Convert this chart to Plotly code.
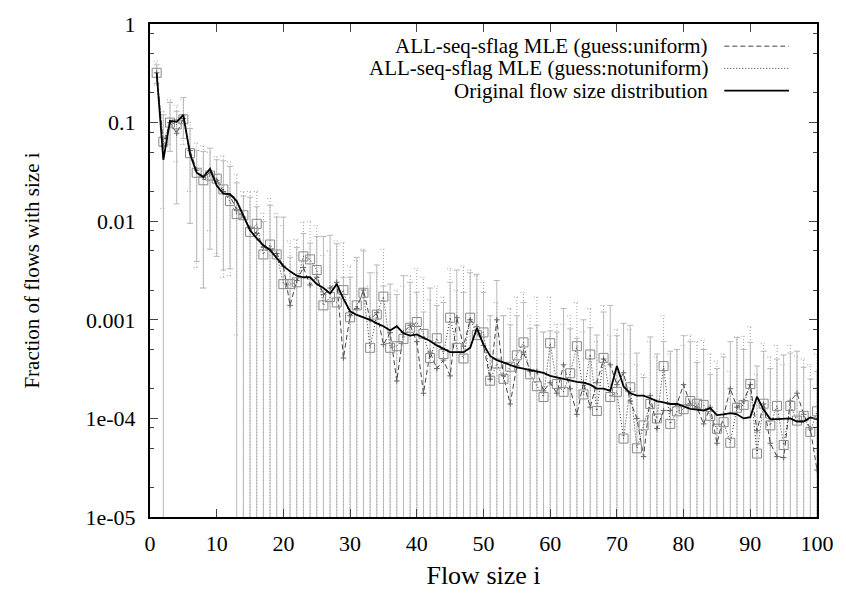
import plotly.graph_objects as go

# ---------------- data ----------------
sizes = list(range(1, 101))

original = [
    0.32, 0.042, 0.104, 0.102, 0.12, 0.048, 0.031, 0.028, 0.034, 0.023,
    0.019, 0.0188, 0.016, 0.0114, 0.0081, 0.0067, 0.0057, 0.0051, 0.0042, 0.0035,
    0.0031, 0.0028, 0.0027, 0.0027, 0.0023, 0.0021, 0.00185, 0.0023, 0.00163, 0.00122,
    0.00112, 0.00106, 0.001, 0.00092, 0.00086, 0.00078, 0.00086, 0.00073, 0.00069, 0.00071,
    0.00066, 0.00061, 0.00055, 0.00051, 0.00047, 0.00047, 0.00047, 0.00052, 0.00082, 0.00056,
    0.00043, 0.00039, 0.00037, 0.00035, 0.00033, 0.00032, 0.00031, 0.0003, 0.00029, 0.00027,
    0.00026, 0.00025, 0.00024, 0.000235, 0.00023, 0.00022, 0.0002, 0.0002, 0.00019, 0.00034,
    0.00021, 0.00018, 0.00017, 0.00017, 0.00016, 0.00015, 0.000145, 0.00014, 0.00014, 0.000133,
    0.000125, 0.000123, 0.00012, 0.000127, 0.000108, 0.00011, 0.000113, 0.00011, 0.0001, 0.000103,
    0.000166, 0.000122, 0.0000985, 0.0000985, 0.0000985, 0.0001, 0.000093, 0.000093, 0.000102, 0.0000985,
]

mle_uniform = [
    0.32, 0.058, 0.10, 0.078, 0.11, 0.052, 0.033, 0.028, 0.031, 0.026,
    0.02, 0.018, 0.013, 0.011, 0.0085, 0.0075, 0.0055, 0.0052, 0.0047, 0.0035,
    0.0014, 0.0025, 0.0034, 0.00225, 0.0027, 0.0018, 0.0021, 0.0024, 0.00041, 0.0011,
    0.0013, 0.002, 0.001, 0.00118, 0.00056, 0.00074, 0.00024, 0.00074, 0.00088, 0.0006,
    0.00018, 0.00047, 0.00032, 0.00039, 0.00027, 0.00105, 0.00054, 0.001, 0.00085, 0.00055,
    0.00025, 0.001, 0.00027, 0.00014, 0.00034, 0.00047, 0.0003, 0.0003, 0.00019, 0.00023,
    0.00018, 0.00035, 0.0002, 0.00011, 0.00023, 0.00013, 0.00023, 0.0004, 0.00035, 0.00022,
    0.00029, 0.00015, 0.0001, 0.000041, 0.00017, 0.000079, 0.00012, 0.00012, 0.00014, 0.00022,
    0.00014, 0.00013, 0.000088, 0.00013, 0.000056, 0.00011, 0.0002, 0.00013, 0.00015, 0.00022,
    0.000075, 0.00014, 0.000056, 0.000041, 0.00004, 0.00015, 0.00018, 0.00011, 0.000078, 0.00003,
]

mle_notuniform = [
    0.32, 0.064, 0.10, 0.096, 0.108, 0.049, 0.031, 0.026, 0.029, 0.027,
    0.021, 0.016, 0.0118, 0.0115, 0.0078, 0.0094, 0.0046, 0.0058, 0.0046, 0.0023,
    0.0023, 0.0024, 0.0044, 0.0041, 0.0032, 0.0014, 0.0017, 0.0015, 0.002, 0.00106,
    0.0014, 0.00188, 0.00052, 0.00113, 0.00172, 0.00052, 0.00054, 0.00064, 0.00083, 0.00095,
    0.00072, 0.00041, 0.00065, 0.00045, 0.00105, 0.00052, 0.000405, 0.00105, 0.0007, 0.000745,
    0.000241, 0.00036, 0.000252, 0.000334, 0.000436, 0.00059, 0.00028, 0.000212, 0.000165, 0.000579,
    0.000223, 0.000186, 0.000287, 0.00054, 0.000175, 0.000445, 0.000119, 0.000411, 0.000165, 0.000186,
    0.0000624, 0.000207, 0.0000497, 0.000085, 0.00014, 0.0001, 0.000339, 0.000088, 0.000118, 0.000124,
    0.00015, 0.000141, 0.000137, 0.000106, 0.0000785, 0.0000915, 0.0000566, 0.000128, 0.000137, 0.000223,
    0.000044, 0.000141, 0.000085, 0.000134, 0.0000537, 0.000134, 0.000095, 0.000106, 0.000073, 0.000118,
]

# error-bar bounds; 0 means the lower bound is not positive (runs off the log axis)
uniform_hi = [
    0.385, 0.12, 0.16, 0.13, 0.18, 0.087, 0.052, 0.051, 0.055, 0.042,
    0.041, 0.036, 0.0245, 0.018, 0.0175, 0.014, 0.0099, 0.0145, 0.011, 0.011,
    0.0043, 0.0054, 0.0075, 0.006, 0.007, 0.007, 0.0072, 0.0059, 0.0027, 0.0027,
    0.0043, 0.005, 0.003, 0.0036, 0.0022, 0.0023, 0.0018, 0.0028, 0.0024, 0.0019,
    0.0012, 0.0021, 0.0014, 0.0015, 0.0024, 0.0032, 0.0019, 0.003, 0.0029, 0.0019,
    0.0011, 0.0025, 0.0011, 0.00089, 0.0011, 0.0015, 0.00082, 0.00088, 0.00075, 0.00077,
    0.00075, 0.0013, 0.00081, 0.00065, 0.001, 0.00083, 0.0007, 0.0012, 0.0014, 0.00069,
    0.00092, 0.00088, 0.00046, 0.00026, 0.00067, 0.00045, 0.0006, 0.00048, 0.0005, 0.00069,
    0.0006, 0.00037, 0.0005, 0.00028, 0.00032, 0.00042, 0.0006, 0.00066, 0.0005, 0.00059,
    0.00034, 0.00048, 0.00032, 0.0004, 0.00044, 0.00046, 0.00048, 0.00033, 0.00025, 0.0003,
]
uniform_lo = [
    0.25, 0, 0.051, 0.015, 0.069, 0.0095, 0.0039, 0.0021, 0.0052, 0.0044,
    0.0032, 0.0033, 0, 0, 0, 0, 0, 0, 0, 0,
    0, 0, 0, 0, 0, 0, 0, 0, 0, 0,
    0, 0, 0, 0, 0, 0, 0, 0, 0, 0,
    0, 0, 0, 0, 0, 0, 0, 0, 0, 0,
    0, 0, 0, 0, 0, 0, 0, 0, 0, 0,
    0, 0, 0, 0, 0, 0, 0, 0, 0, 0,
    0, 0, 0, 0, 0, 0, 0, 0, 0, 0,
    0, 0, 0, 0, 0, 0, 0, 0, 0, 0,
    0, 0, 0, 0, 0, 0, 0, 0, 0, 0,
]
notuniform_hi = [
    0.42, 0.13, 0.17, 0.15, 0.17, 0.1, 0.062, 0.058, 0.05, 0.045,
    0.046, 0.04, 0.03, 0.02, 0.02, 0.02, 0.012, 0.017, 0.012, 0.009,
    0.0063, 0.0065, 0.0098, 0.01, 0.009, 0.0045, 0.005, 0.0063, 0.0061, 0.0035,
    0.004, 0.0052, 0.0022, 0.003, 0.0052, 0.0018, 0.002, 0.0022, 0.0028, 0.0033,
    0.0027, 0.0016, 0.0022, 0.0017, 0.0033, 0.002, 0.0035, 0.0032, 0.0028, 0.0024,
    0.001, 0.0015, 0.0011, 0.0013, 0.0017, 0.0019, 0.0011, 0.0017, 0.00075, 0.0017,
    0.0009, 0.0009, 0.0011, 0.0015, 0.00075, 0.0013, 0.0006, 0.0014, 0.0007, 0.0008,
    0.00045, 0.0008, 0.00035, 0.00028, 0.0006, 0.00042, 0.0011, 0.00045, 0.0005, 0.00055,
    0.0007, 0.0006, 0.00062, 0.00045, 0.00038, 0.00045, 0.0003, 0.00067, 0.00068, 0.00085,
    0.00028, 0.00058, 0.00042, 0.00055, 0.00035, 0.00055, 0.00043, 0.0004, 0.00035, 0.00045,
]
notuniform_lo = [
    0.24, 0.0135, 0.06, 0.04, 0.06, 0.02, 0.0034, 0.0021, 0.008, 0.0047,
    0.0027, 0.0028, 0.0007, 0, 0, 0, 0, 0, 0, 0,
    0, 0, 0, 0, 0, 0, 0, 0, 0, 0,
    0, 0, 0, 0, 0, 0, 0, 0, 0, 0,
    0, 0, 0, 0, 0, 0, 0, 0, 0, 0,
    0, 0, 0, 0, 0, 0, 0, 0, 0, 0,
    0, 0, 0, 0, 0, 0, 0, 0, 0, 0,
    0, 0, 0, 0, 0, 0, 0, 0, 0, 0,
    0, 0, 0, 0, 0, 0, 0, 0, 0, 0,
    0, 0, 0, 0, 0, 0, 0, 0, 0, 0,
]

series_names = [
    "ALL-seq-sflag MLE (guess:uniform)",
    "ALL-seq-sflag MLE (guess:notuniform)",
    "Original flow size distribution",
]
x_ticks = [0, 10, 20, 30, 40, 50, 60, 70, 80, 90, 100]
y_ticks = [1e-5, 1e-4, 1e-3, 1e-2, 1e-1, 1]
y_ticktext = ["1e-05", "1e-04", "0.001", "0.01", "0.1", "1"]
y_minor = [m * 10.0 ** e for e in range(-5, 0) for m in (2, 5, 8)]

# ---------------- styling ----------------
FONT = "Liberation Serif"
Y_MIN, Y_MAX = 1e-5, 1.0
CAP = 0.45  # half width of dotted error-bar caps, in x units

fig = go.Figure()

# dotted error bars of the "notuniform" estimate
bx, by = [], []
for s, lo, hi in zip(sizes, notuniform_lo, notuniform_hi):
    bottom = lo if lo > 0 else Y_MIN
    bx += [s, s, None, s - CAP, s + CAP, None]
    by += [bottom, hi, None, hi, hi, None]
    if lo > 0:
        bx += [s - CAP, s + CAP, None]
        by += [lo, lo, None]
fig.add_trace(go.Scatter(
    x=bx, y=by, mode="lines", showlegend=False, hoverinfo="skip",
    line=dict(color="#a0a0a0", width=1, dash="1px,2px"),
))

# uniform estimate with solid error bars
fig.add_trace(go.Scatter(
    x=sizes, y=mle_uniform, mode="lines+markers", name=series_names[0], showlegend=False,
    line=dict(color="#444444", width=1, dash="5px,3px"),
    marker=dict(symbol="cross-thin", size=4, line=dict(color="#666666", width=1)),
    error_y=dict(
        type="data", symmetric=False,
        array=[h - v for h, v in zip(uniform_hi, mle_uniform)],
        arrayminus=[v - l for v, l in zip(mle_uniform, uniform_lo)],
        color="#b8b8b8", thickness=1, width=3,
    ),
))

# notuniform estimate (open squares, dotted line)
fig.add_trace(go.Scatter(
    x=sizes, y=mle_notuniform, mode="lines+markers", name=series_names[1], showlegend=False,
    line=dict(color="#333333", width=1, dash="1px,2px"),
    marker=dict(symbol="square-open", size=9, color="#8a8a8a", line=dict(width=1)),
))

# original distribution
fig.add_trace(go.Scatter(
    x=sizes, y=original, mode="lines", name=series_names[2], showlegend=False,
    line=dict(color="black", width=1.8),
))

# gnuplot-style key: text on the left, line sample on the right
key_rows = [0.955, 0.910, 0.865]
key_dash = ["5px,3px", "1px,2px", "solid"]
key_color = ["#444444", "#333333", "black"]
key_width = [1, 1, 1.8]
for name, yy, dsh, col, lw in zip(series_names, key_rows, key_dash, key_color, key_width):
    fig.add_annotation(
        x=0.839, y=yy, xref="paper", yref="paper", text=name, showarrow=False,
        xanchor="right", yanchor="middle", font=dict(family=FONT, size=21, color="black"),
    )
    fig.add_shape(
        type="line", xref="paper", yref="paper", x0=0.861, x1=0.958, y0=yy, y1=yy,
        line=dict(color=col, width=lw, dash=dsh),
    )

fig.update_layout(
    width=846, height=597,
    margin=dict(l=150, r=25, t=18, b=75),
    paper_bgcolor="white", plot_bgcolor="white",
    font=dict(family=FONT, size=22, color="black"),
    showlegend=False,
)
fig.update_xaxes(
    range=[0, 100], tickvals=x_ticks, ticks="inside", ticklen=8, tickwidth=1,
    showline=True, linecolor="black", linewidth=2, mirror="ticks",
    showgrid=False, zeroline=False, ticklabelstandoff=6,
    title=dict(text="Flow size i", standoff=10),
)
fig.update_yaxes(
    type="log", range=[-5, 0], tickvals=y_ticks, ticktext=y_ticktext,
    ticks="inside", ticklen=8, tickwidth=1,
    minor=dict(tickvals=y_minor, ticks="inside", ticklen=4, tickwidth=1, showgrid=False),
    showline=True, linecolor="black", linewidth=2, mirror="ticks",
    showgrid=False, zeroline=False, ticklabelstandoff=8,
    title=dict(text="Fraction of flows with size i", standoff=40, font=dict(size=21)),
)

fig.write_html("out.html")
